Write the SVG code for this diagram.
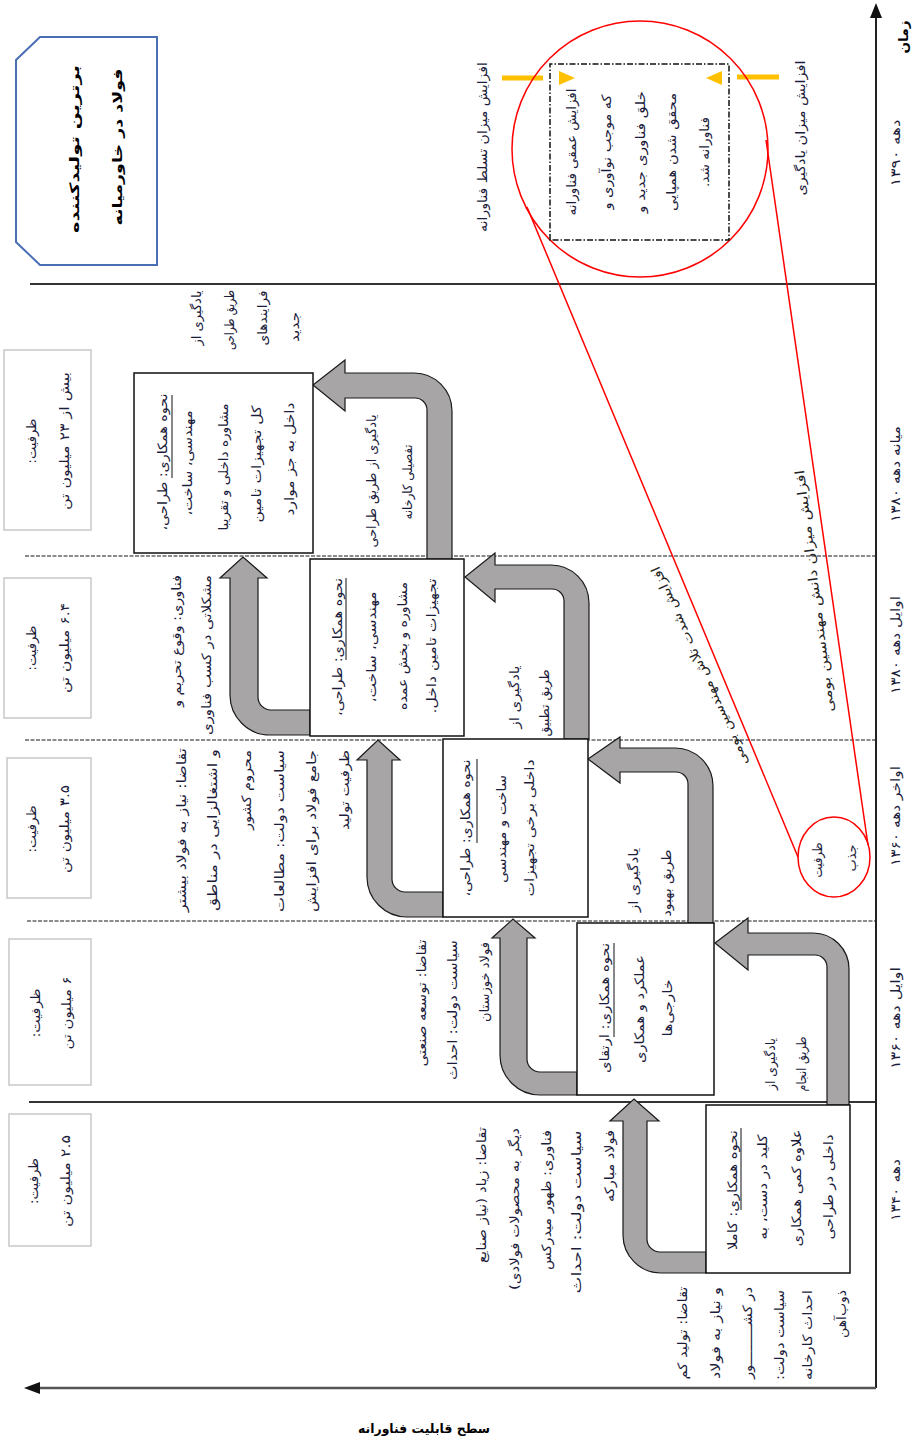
<svg xmlns="http://www.w3.org/2000/svg" width="917" height="1440" viewBox="0 0 917 1440">
<style>
text{font-family:"DejaVu Sans",sans-serif;font-size:13px;fill:#1c1c3c;text-anchor:middle;direction:rtl}
.b{font-weight:bold;fill:#000}
.box{fill:#fff;stroke:#111;stroke-width:1.5}
.cap{fill:#fff;stroke:#c8c8c8;stroke-width:1.5}
.arr{fill:#a7a5a5;stroke:#1a1a1a;stroke-width:1.2}
.sep{stroke:#333;stroke-width:2}
.dash{stroke:#666;stroke-width:1.5;stroke-dasharray:4 1.5}
.ul{stroke:#111;stroke-width:1}
.red{fill:none;stroke:#f00;stroke-width:1.5}
.or{stroke:#ffc000;stroke-width:5}
.dg{fill:#222}
</style>
<rect width="917" height="1440" fill="#fff"/>
<g transform="translate(0,1440) rotate(-90)">
<g id="grid">
<line class="sep" x1="1156" y1="30" x2="1156" y2="876"/>
<line class="dash" x1="884" y1="25" x2="884" y2="876"/>
<line class="dash" x1="700" y1="25" x2="700" y2="876"/>
<line class="dash" x1="519" y1="27" x2="519" y2="876"/>
<line class="sep" x1="338" y1="29" x2="338" y2="876"/>
<line x1="52" y1="876" x2="1424" y2="876" stroke="#222" stroke-width="2"/>
<polygon points="1437,876 1422,870 1422,882" fill="#111"/>
<line x1="52" y1="876" x2="52" y2="38" stroke="#555" stroke-width="2.5"/>
<polygon points="52,24 46,40 58,40" fill="#111"/>
<text class="b" x="1403" y="908" font-size="15" textLength="33" lengthAdjust="spacingAndGlyphs">زمان</text>
<text x="1287" y="900" textLength="67" lengthAdjust="spacingAndGlyphs">دهه ۱۳۹۰</text>
<text x="966" y="900" textLength="96" lengthAdjust="spacingAndGlyphs">میانه دهه ۱۳۸۰</text>
<text x="795" y="900" textLength="98" lengthAdjust="spacingAndGlyphs">اوایل دهه ۱۳۸۰</text>
<text x="624" y="900" textLength="100" lengthAdjust="spacingAndGlyphs">اواخر دهه ۱۳۶۰</text>
<text x="422" y="900" textLength="102" lengthAdjust="spacingAndGlyphs">اوایل دهه ۱۳۶۰</text>
<text x="250" y="900" textLength="62" lengthAdjust="spacingAndGlyphs">دهه ۱۳۴۰</text>
</g>
<g id="connectors">
<path class="arr" d="M167,706 V661 A38,38 0 0 1 205,623 H319 V610 L341,634 L319,659 V647 H201 A13,13 0 0 0 188,660 V706 Z"/>
<path class="arr" d="M345,577 V540 A40,40 0 0 1 385,500 H502 V492 L521,513 L502,535 V527 H381 A13,13 0 0 0 368,540 V577 Z"/>
<path class="arr" d="M523,443 V407 A40,40 0 0 1 563,367 H680 V357 L700,378 L680,400 V392 H561 A13,13 0 0 0 548,405 V443 Z"/>
<path class="arr" d="M705,310 V270 A40,40 0 0 1 745,230 H862 V220 L883,243 L862,267 V258 H743 A13,13 0 0 0 730,271 V310 Z"/>
<path class="arr" d="M335,849 H471 A36,36 0 0 0 507,813 V748 H522 L497,715 L470,748 H485 V815 A12,12 0 0 1 473,827 H335 Z"/>
<path class="arr" d="M517,713 H654 A38,38 0 0 0 692,675 V620 H703 L681,588 L657,620 H668 V676 A12,12 0 0 1 656,688 H517 Z"/>
<path class="arr" d="M701,589 H837 A38,38 0 0 0 875,551 V495 H887 L863,465 L838,495 H851 V552 A12,12 0 0 1 839,564 H701 Z"/>
<path class="arr" d="M881,452 H1029 A38,38 0 0 0 1067,414 V345 H1080 L1055,313 L1029,345 H1042 V415 A12,12 0 0 1 1030,427 H881 Z"/>
<line class="red" x1="1233" y1="527" x2="583" y2="798"/>
<line class="red" x1="1300" y1="766" x2="595" y2="868"/>
<line class="or" x1="1362" y1="502" x2="1362" y2="543"/>
<polygon points="1362,575 1355,559 1369,559" fill="#ffc000"/>
<line class="or" x1="1363" y1="737" x2="1363" y2="779"/>
<polygon points="1362,706 1355,722 1369,722" fill="#ffc000"/>
</g>
<g id="node-title">
<polygon points="1198,16 1380,16 1403,40 1403,157 1175,157 1175,40" fill="#fff" stroke="#4a6fb5" stroke-width="2"/>
<text class="b" x="1291" y="79" font-size="19" textLength="168" lengthAdjust="spacingAndGlyphs">برترین تولیدکننده</text>
<text class="b" x="1293" y="122" font-size="19" textLength="157" lengthAdjust="spacingAndGlyphs">فولاد در خاورمیانه</text>
</g>
<g id="node-cap-1">
<rect class="cap" x="910" y="4" width="180" height="87"/>
<text x="999" y="36" textLength="45" lengthAdjust="spacingAndGlyphs">ظرفیت:</text>
<text x="999" y="69" textLength="138" lengthAdjust="spacingAndGlyphs">بیش از ۲۳ میلیون تن</text>
</g>
<g id="node-cap-2">
<rect class="cap" x="722" y="4" width="140" height="87"/>
<text x="792" y="36" textLength="45" lengthAdjust="spacingAndGlyphs">ظرفیت:</text>
<text x="792" y="69" textLength="90" lengthAdjust="spacingAndGlyphs">۶.۴ میلیون تن</text>
</g>
<g id="node-cap-3">
<rect class="cap" x="542" y="7" width="140" height="84"/>
<text x="611" y="36" textLength="47" lengthAdjust="spacingAndGlyphs">ظرفیت:</text>
<text x="611" y="69" textLength="88" lengthAdjust="spacingAndGlyphs">۳.۵ میلیون تن</text>
</g>
<g id="node-cap-4">
<rect class="cap" x="355" y="9" width="146" height="82"/>
<text x="427" y="40" textLength="49" lengthAdjust="spacingAndGlyphs">ظرفیت:</text>
<text x="427" y="71" textLength="73" lengthAdjust="spacingAndGlyphs">۶ میلیون تن</text>
</g>
<g id="node-cap-5">
<rect class="cap" x="194" y="9" width="132" height="82"/>
<text x="259" y="38" textLength="46" lengthAdjust="spacingAndGlyphs">ظرفیت:</text>
<text x="259" y="70" textLength="92" lengthAdjust="spacingAndGlyphs">۲.۵ میلیون تن</text>
</g>
<g id="node-1340">
<rect class="box" x="167" y="706" width="168" height="144"/>
<text x="250" y="737" textLength="120" lengthAdjust="spacingAndGlyphs">نحوه همکاری: کاملا</text>
<line class="ul" x1="230" y1="741" x2="312" y2="741"/>
<text x="253" y="767" textLength="105" lengthAdjust="spacingAndGlyphs">کلید در دست، به</text>
<text x="252" y="801" textLength="117" lengthAdjust="spacingAndGlyphs">علاوه کمی همکاری</text>
<text x="253" y="833" textLength="105" lengthAdjust="spacingAndGlyphs">داخلی در طراحی</text>
</g>
<g id="node-1360a">
<rect class="box" x="345" y="577" width="172" height="137"/>
<text x="432" y="609" textLength="130" lengthAdjust="spacingAndGlyphs">نحوه همکاری: ارتقای</text>
<line class="ul" x1="403" y1="614" x2="497" y2="614"/>
<text x="431" y="644" textLength="108" lengthAdjust="spacingAndGlyphs">عملکرد و همکاری</text>
<text x="432" y="672" textLength="57" lengthAdjust="spacingAndGlyphs">خارجی‌ها</text>
</g>
<g id="node-1360b">
<rect class="box" x="523" y="443" width="178" height="145"/>
<text x="612" y="470" textLength="137" lengthAdjust="spacingAndGlyphs">نحوه همکاری: طراحی،</text>
<line class="ul" x1="597" y1="477" x2="681" y2="477"/>
<text x="611" y="506" textLength="108" lengthAdjust="spacingAndGlyphs">ساخت و مهندسی</text>
<text x="612" y="534" textLength="137" lengthAdjust="spacingAndGlyphs">داخلی برخی تجهیزات</text>
</g>
<g id="node-1380a">
<rect class="box" x="704" y="310" width="177" height="154"/>
<text x="793" y="342" textLength="138" lengthAdjust="spacingAndGlyphs">نحوه همکاری: طراحی،</text>
<line class="ul" x1="780" y1="346" x2="862" y2="346"/>
<text x="793" y="376" textLength="111" lengthAdjust="spacingAndGlyphs">مهندسی، ساخت،</text>
<text x="794" y="407" textLength="128" lengthAdjust="spacingAndGlyphs">مشاوره و بخش عمده</text>
<text x="794" y="436" textLength="135" lengthAdjust="spacingAndGlyphs">تجهیزات تامین داخل.</text>
</g>
<g id="node-1380b">
<rect class="box" x="887" y="134" width="180" height="179"/>
<text x="978" y="167" textLength="137" lengthAdjust="spacingAndGlyphs">نحوه همکاری: طراحی،</text>
<line class="ul" x1="962" y1="172" x2="1045" y2="172"/>
<text x="977" y="192" textLength="105" lengthAdjust="spacingAndGlyphs">مهندسی، ساخت،</text>
<text x="973" y="228" textLength="127" lengthAdjust="spacingAndGlyphs">مشاوره داخلی و تقریبا</text>
<text x="976" y="261" textLength="117" lengthAdjust="spacingAndGlyphs">کل تجهیزات تامین</text>
<text x="981" y="294" textLength="113" lengthAdjust="spacingAndGlyphs">داخل به جز موارد</text>
</g>
<g id="labels-learning">
<text x="376" y="775" textLength="52" lengthAdjust="spacingAndGlyphs">یادگیری از</text>
<text x="376" y="806" textLength="55" lengthAdjust="spacingAndGlyphs">طریق انجام</text>
<text x="560" y="638" textLength="64" lengthAdjust="spacingAndGlyphs">یادگیری از</text>
<text x="557" y="671" textLength="67" lengthAdjust="spacingAndGlyphs">طریق بهبود</text>
<text x="743" y="519" textLength="63" lengthAdjust="spacingAndGlyphs">یادگیری از</text>
<text x="737" y="549" textLength="67" lengthAdjust="spacingAndGlyphs">طریق تطبیق</text>
<text x="959" y="376" textLength="133" lengthAdjust="spacingAndGlyphs">یادگیری از طریق طراحی</text>
<text x="958" y="412" textLength="75" lengthAdjust="spacingAndGlyphs">تفصیلی کارخانه</text>
<text x="1122" y="201" textLength="55" lengthAdjust="spacingAndGlyphs">یادگیری از</text>
<text x="1120" y="234" textLength="60" lengthAdjust="spacingAndGlyphs">طریق طراحی</text>
<text x="1122" y="267" textLength="55" lengthAdjust="spacingAndGlyphs">فرایندهای</text>
<text x="1113" y="299" textLength="30" lengthAdjust="spacingAndGlyphs">جدید</text>
</g>
<g id="labels-demand">
<text x="245" y="486" textLength="136" lengthAdjust="spacingAndGlyphs">تقاضا: زیاد (نیاز صنایع</text>
<text x="231" y="519" textLength="162" lengthAdjust="spacingAndGlyphs">دیگر به محصولات فولادی)</text>
<text x="240" y="551" textLength="140" lengthAdjust="spacingAndGlyphs">فناوری: ظهور میدرکس</text>
<text x="228" y="581" textLength="163" lengthAdjust="spacingAndGlyphs">سیاست دولت: احداث</text>
<text x="274" y="614" textLength="72" lengthAdjust="spacingAndGlyphs">فولاد مبارکه</text>
<text x="107" y="687" textLength="93" lengthAdjust="spacingAndGlyphs">تقاضا: تولید کم</text>
<text x="107" y="720" textLength="92" lengthAdjust="spacingAndGlyphs">و نیاز به فولاد</text>
<text x="107" y="752" textLength="92" lengthAdjust="spacingAndGlyphs">در کشـــــــــور</text>
<text x="105" y="784" textLength="90" lengthAdjust="spacingAndGlyphs">سیاست دولت:</text>
<text x="105" y="812" textLength="90" lengthAdjust="spacingAndGlyphs">احداث کارخانه</text>
<text x="126" y="846" textLength="48" lengthAdjust="spacingAndGlyphs">ذوب‌آهن</text>
<text x="437" y="426" textLength="127" lengthAdjust="spacingAndGlyphs">تقاضا: توسعه صنعتی</text>
<text x="430" y="457" textLength="140" lengthAdjust="spacingAndGlyphs">سیاست دولت: احداث</text>
<text x="458" y="489" textLength="80" lengthAdjust="spacingAndGlyphs">فولاد خوزستان</text>
<text x="610" y="186" textLength="164" lengthAdjust="spacingAndGlyphs">تقاضا: نیاز به فولاد بیشتر</text>
<text x="610" y="217" textLength="162" lengthAdjust="spacingAndGlyphs">و اشتغالزایی در مناطق</text>
<text x="650" y="251" textLength="80" lengthAdjust="spacingAndGlyphs">محروم کشور</text>
<text x="609" y="284" textLength="162" lengthAdjust="spacingAndGlyphs">سیاست دولت: مطالعات</text>
<text x="609" y="316" textLength="162" lengthAdjust="spacingAndGlyphs">جامع فولاد برای افزایش</text>
<text x="650" y="349" textLength="80" lengthAdjust="spacingAndGlyphs">ظرفیت تولید</text>
<text x="799" y="181" textLength="132" lengthAdjust="spacingAndGlyphs">فناوری: وقوع تحریم و</text>
<text x="785" y="211" textLength="160" lengthAdjust="spacingAndGlyphs">مشکلاتی در کسب فناوری</text>
</g>
<g id="node-zoom">
<circle class="red" cx="1291" cy="640" r="128"/>
<rect x="1200" y="550" width="176" height="179" fill="none" stroke="#111" stroke-width="1.5" stroke-dasharray="6 2 1.5 2"/>
<text x="1288" y="576" textLength="127" lengthAdjust="spacingAndGlyphs">افزایش عمقی فناورانه</text>
<text x="1288" y="611" textLength="115" lengthAdjust="spacingAndGlyphs">که موجب نوآوری و</text>
<text x="1288" y="645" textLength="122" lengthAdjust="spacingAndGlyphs">خلق فناوری جدید و</text>
<text x="1288" y="676" textLength="118" lengthAdjust="spacingAndGlyphs">محقق شدن همپایی</text>
<text x="1288" y="709" textLength="70" lengthAdjust="spacingAndGlyphs">فناورانه شد.</text>
<text x="1293" y="487" textLength="170" lengthAdjust="spacingAndGlyphs">افزایش میزان تسلط فناورانه</text>
<text x="1312" y="805" textLength="135" lengthAdjust="spacingAndGlyphs">افزایش میزان یادگیری</text>
</g>
<g id="node-absorb">
<ellipse class="red" cx="583" cy="834" rx="40" ry="36"/>
<text x="580" y="822" textLength="35" lengthAdjust="spacingAndGlyphs">ظرفیت</text>
<text x="582" y="856" textLength="27" lengthAdjust="spacingAndGlyphs">جذب</text>
</g>
<g id="labels-trend">
<text class="dg" transform="translate(774,700) rotate(-24.4)" y="4" textLength="217" lengthAdjust="spacingAndGlyphs">افزایش شدت تلاش مهندسین بومی</text>
<text class="dg" transform="translate(849,815) rotate(-7.1)" y="4" textLength="244" lengthAdjust="spacingAndGlyphs">افزایش میزان دانش مهندسین بومی</text>
</g>
</g>
<text class="b" x="424" y="1433" font-size="14" textLength="132" lengthAdjust="spacingAndGlyphs">سطح قابلیت فناورانه</text>
</svg>
